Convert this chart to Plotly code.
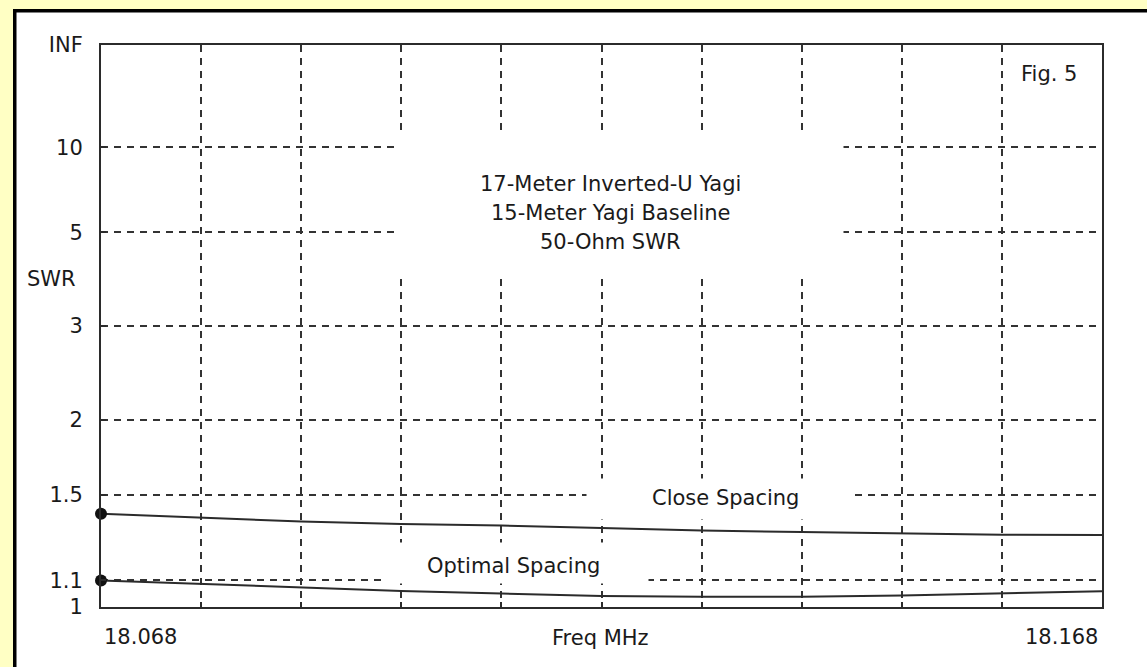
import plotly.graph_objects as go

# Frequency sweep (MHz) and 50-ohm SWR for the two element spacings
freq_mhz = [18.068, 18.078, 18.088, 18.098, 18.108, 18.118,
            18.128, 18.138, 18.148, 18.158, 18.168]
swr_close = [1.398, 1.377, 1.359, 1.347, 1.339, 1.327,
             1.315, 1.308, 1.301, 1.295, 1.294]
swr_optimal = [1.099, 1.085, 1.070, 1.059, 1.049, 1.040,
               1.037, 1.037, 1.042, 1.049, 1.058]

# SWR axis labels (scale is linear in reflection coefficient)
swr_ticks = [1, 1.1, 1.5, 2, 3, 5, 10, float("inf")]
swr_tick_text = ["1", "1.1", "1.5", "2", "3", "5", "10", "INF"]

title_lines = ["17-Meter Inverted-U Yagi", "15-Meter Yagi Baseline", "50-Ohm SWR"]


def rho(s):
    """Reflection coefficient magnitude for a given SWR."""
    if s == float("inf"):
        return 1.0
    return (s - 1.0) / (s + 1.0)


FONT = "DejaVu Sans"
TXT = "#1a1a1a"
INK = "#2b2b2b"
YELLOW = "#FFFFC4"

# plot-area geometry in pixels
W, H = 1147, 667
ML, MR, MT, MB = 101, 45, 45, 60
PW, PH = W - ML - MR, H - MT - MB


def px(x):
    return (x - ML) / PW


def py(y):
    return (H - MB - y) / PH


fig = go.Figure()

for swr in (swr_close, swr_optimal):
    fig.add_trace(go.Scatter(
        x=freq_mhz, y=[rho(v) for v in swr], mode="lines",
        line=dict(color=INK, width=2), hoverinfo="skip", showlegend=False))
    fig.add_trace(go.Scatter(
        x=[freq_mhz[0]], y=[rho(swr[0])], mode="markers",
        marker=dict(color="#111111", size=12, symbol="circle"),
        cliponaxis=False, hoverinfo="skip", showlegend=False))

grid_style = dict(showgrid=True, gridcolor="#333333", gridwidth=2,
                  griddash="7px,6px", zeroline=False,
                  showline=True, linecolor=INK, linewidth=2, mirror=True,
                  ticks="inside", ticklen=5, tickcolor=INK, tickwidth=2)

fig.update_xaxes(range=[freq_mhz[0], freq_mhz[-1]], dtick=0.01,
                 tick0=freq_mhz[0], showticklabels=False, **grid_style)
fig.update_yaxes(range=[0, 1], tickmode="array",
                 tickvals=[rho(s) for s in swr_ticks], ticktext=swr_tick_text,
                 tickfont=dict(family=FONT, size=21, color=TXT),
                 ticklabelstandoff=12, **grid_style)

# white boxes that break the grid behind the text blocks
boxes = [
    (620, 206.5, 446, 143),   # title block
    (720, 498.5, 266, 40),    # Close Spacing
    (515, 562.5, 266, 40),    # Optimal Spacing
]
annotations = []
for cx, cy, bw, bh in boxes:
    annotations.append(dict(xref="paper", yref="paper", x=px(cx), y=py(cy),
                            text=" ", showarrow=False, bgcolor="white",
                            width=bw, height=bh, borderpad=0,
                            xanchor="center", yanchor="middle"))

labels = [
    (title_lines[0], 610, 184, "center"),
    (title_lines[1], 610, 213, "center"),
    (title_lines[2], 610, 242, "center"),
    ("Close Spacing", 725, 498, "center"),
    ("Optimal Spacing", 513, 566, "center"),
    ("Fig. 5", 1049, 74, "center"),
    ("SWR", 51.5, 278.5, "center"),
    ("18.068", 102, 637, "left"),
    ("18.168", 1100, 637, "right"),
    ("Freq MHz", 600, 638, "center"),
]
for text, x, y, anchor in labels:
    annotations.append(dict(xref="paper", yref="paper", x=px(x), y=py(y),
                            text=text, showarrow=False, xanchor=anchor,
                            yanchor="middle", align="center",
                            font=dict(family=FONT, size=21, color=TXT)))

# yellow page edge and black window border on the top and left sides
shapes = [
    dict(type="rect", xref="paper", yref="paper", layer="above",
         x0=px(0), x1=px(13), y0=py(H), y1=py(0),
         fillcolor=YELLOW, line=dict(width=0)),
    dict(type="rect", xref="paper", yref="paper", layer="above",
         x0=px(0), x1=px(W), y0=py(9), y1=py(0),
         fillcolor=YELLOW, line=dict(width=0)),
    dict(type="rect", xref="paper", yref="paper", layer="above",
         x0=px(13), x1=px(16.5), y0=py(H), y1=py(9),
         fillcolor="black", line=dict(width=0)),
    dict(type="rect", xref="paper", yref="paper", layer="above",
         x0=px(13), x1=px(W), y0=py(12.5), y1=py(9),
         fillcolor="black", line=dict(width=0)),
]

fig.update_layout(
    width=W, height=H,
    margin=dict(l=ML, r=MR, t=MT, b=MB, pad=0),
    paper_bgcolor="white", plot_bgcolor="white",
    annotations=annotations, shapes=shapes,
    showlegend=False,
)

fig.write_html("out.html", config={"displayModeBar": False})
